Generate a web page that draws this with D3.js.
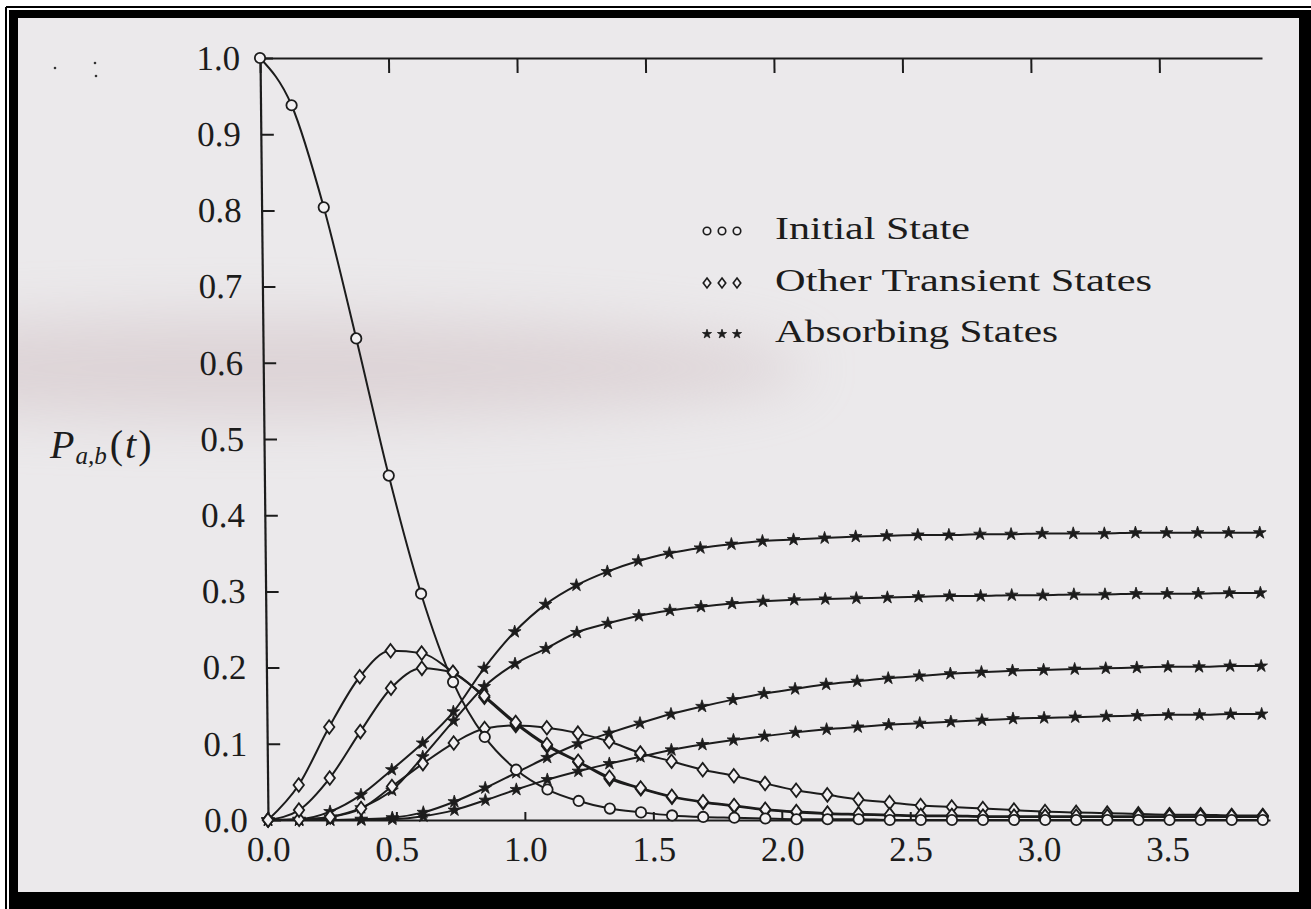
<!DOCTYPE html>
<html>
<head>
<meta charset="utf-8">
<script src="https://cdn.jsdelivr.net/npm/d3@7"></script>
<style>
  html, body { margin: 0; padding: 0; background: #ffffff; }
  svg { display: block; }
</style>
</head>
<body>
<svg id="chart" width="1311" height="909"></svg>
<script>
// ---------------- data ----------------
const tValues = [0, 0.121, 0.242, 0.363, 0.484, 0.605, 0.726, 0.847, 0.968, 1.089, 1.21,
  1.331, 1.452, 1.573, 1.694, 1.815, 1.936, 2.057, 2.178, 2.299, 2.42, 2.541, 2.662,
  2.783, 2.904, 3.025, 3.146, 3.267, 3.388, 3.509, 3.63, 3.751, 3.872];

const initialState = [1.0, 0.938, 0.804, 0.632, 0.452, 0.297, 0.181, 0.109, 0.066, 0.040, 0.025,
  0.015, 0.010, 0.006, 0.004, 0.003, 0.002, 0.001, 0.001, 0.001, 0, 0, 0,
  0, 0, 0, 0, 0, 0, 0, 0, 0, 0];

const transientA = [0, 0.046, 0.122, 0.188, 0.222, 0.219, 0.194, 0.163, 0.128, 0.099, 0.077,
  0.056, 0.042, 0.031, 0.024, 0.019, 0.014, 0.011, 0.009, 0.008, 0.007, 0.006, 0.006,
  0.005, 0.005, 0.005, 0.005, 0.005, 0.005, 0.005, 0.005, 0.005, 0.005];

const transientB = [0, 0.013, 0.055, 0.116, 0.173, 0.199, 0.193, 0.161, 0.126, 0.097, 0.076,
  0.054, 0.041, 0.030, 0.023, 0.018, 0.013, 0.010, 0.008, 0.007, 0.006, 0.005, 0.005,
  0.004, 0.004, 0.004, 0.004, 0.004, 0.004, 0.004, 0.004, 0.004, 0.004];

const transientC = [0, 0.001, 0.004, 0.015, 0.044, 0.074, 0.101, 0.120, 0.124, 0.121, 0.114,
  0.103, 0.088, 0.077, 0.066, 0.058, 0.048, 0.039, 0.033, 0.027, 0.023, 0.019, 0.017,
  0.015, 0.013, 0.011, 0.010, 0.009, 0.008, 0.007, 0.007, 0.006, 0.006];

const absorbingA = [0, 0.001, 0.011, 0.033, 0.066, 0.101, 0.142, 0.199, 0.247, 0.283, 0.308,
  0.326, 0.340, 0.350, 0.357, 0.362, 0.366, 0.368, 0.370, 0.372, 0.373, 0.374, 0.374,
  0.375, 0.375, 0.376, 0.376, 0.376, 0.377, 0.377, 0.377, 0.377, 0.377];

const absorbingB = [0, 0, 0.004, 0.016, 0.039, 0.083, 0.130, 0.175, 0.205, 0.225, 0.246,
  0.258, 0.268, 0.275, 0.280, 0.284, 0.287, 0.289, 0.290, 0.291, 0.292, 0.293, 0.294,
  0.294, 0.295, 0.295, 0.296, 0.296, 0.297, 0.297, 0.297, 0.298, 0.298];

const absorbingC = [0, 0, 0, 0.001, 0.003, 0.010, 0.024, 0.042, 0.062, 0.082, 0.100,
  0.114, 0.127, 0.139, 0.149, 0.158, 0.166, 0.172, 0.178, 0.182, 0.186, 0.189, 0.192,
  0.194, 0.196, 0.197, 0.198, 0.199, 0.200, 0.201, 0.201, 0.202, 0.202];

const absorbingD = [0, 0, 0, 0, 0.001, 0.005, 0.013, 0.026, 0.040, 0.053, 0.064,
  0.074, 0.083, 0.092, 0.099, 0.105, 0.110, 0.115, 0.119, 0.122, 0.125, 0.127, 0.129,
  0.131, 0.133, 0.134, 0.135, 0.136, 0.137, 0.138, 0.138, 0.139, 0.139];

const xTickValues = [0, 0.5, 1.0, 1.5, 2.0, 2.5, 3.0, 3.5];
const yTickValues = [0, 0.1, 0.2, 0.3, 0.4, 0.5, 0.6, 0.7, 0.8, 0.9, 1.0];
const legendLabels = ["Initial State", "Other Transient States", "Absorbing States"];
const legendMarkers = ["circle", "diamond", "star"];

// series: [values, marker]
const seriesList = [
  [absorbingD, "star"], [absorbingC, "star"], [absorbingB, "star"], [absorbingA, "star"],
  [transientC, "diamond"], [transientB, "diamond"], [transientA, "diamond"],
  [initialState, "circle"]
];

// ---------------- drawing ----------------
const svg = d3.select("#chart");
const W = 1311, H = 909;
const BG = "#ebe9eb";
const INK = "#1c1c1c";
const FONT = "'Liberation Serif', 'DejaVu Serif', serif";

// scanned-page frame
svg.append("rect").attr("x", 0).attr("y", 0).attr("width", W).attr("height", H).attr("fill", "#ffffff");
svg.append("rect").attr("x", 9).attr("y", 10).attr("width", W - 9).attr("height", H - 10).attr("fill", "#000");
svg.append("rect").attr("x", 18).attr("y", 18).attr("width", 1281).attr("height", 874).attr("fill", BG);
svg.append("line").attr("x1", 6).attr("y1", 7).attr("x2", 6).attr("y2", H).attr("stroke", "#000").attr("stroke-width", 2);
svg.append("line").attr("x1", 6).attr("y1", 7).attr("x2", W).attr("y2", 7).attr("stroke", "#000").attr("stroke-width", 2);

// faint, blurred shading of the scan
const defs = svg.append("defs");
defs.append("filter").attr("id", "soft").attr("x", "-20%").attr("y", "-80%")
  .attr("width", "140%").attr("height", "260%")
  .append("feGaussianBlur").attr("stdDeviation", 28);
defs.append("clipPath").attr("id", "inner").append("rect")
  .attr("x", 18).attr("y", 18).attr("width", 1281).attr("height", 874);
svg.append("g").attr("clip-path", "url(#inner)")
  .append("ellipse").attr("cx", 250).attr("cy", 368).attr("rx", 560).attr("ry", 52)
  .attr("fill", "#c8b3b7").attr("opacity", 0.38).attr("filter", "url(#soft)");

// plot area (the scan is very slightly skewed)
const plotW = 1002, plotH = 762;
const xScale = d3.scaleLinear().domain([0, 3.9]).range([0, plotW]);
const yScale = d3.scaleLinear().domain([0, 1]).range([0, -plotH]);

const plot = svg.append("g").attr("transform", "translate(268,820) skewX(0.6)");

// axes
const axisFont = (sel) => sel.selectAll("text")
  .attr("font-family", FONT).attr("font-size", 35).attr("fill", INK);

const axisB = plot.append("g")
  .call(d3.axisBottom(xScale).tickValues(xTickValues).tickFormat(d3.format(".1f"))
    .tickSize(-8).tickSizeOuter(0).tickPadding(16));
axisFont(axisB);

const axisT = plot.append("g").attr("transform", `translate(0,${-plotH})`)
  .call(d3.axisTop(xScale).tickValues(xTickValues).tickFormat("")
    .tickSize(-15).tickSizeOuter(0));

const axisL = plot.append("g")
  .call(d3.axisLeft(yScale).tickValues(yTickValues).tickFormat(d3.format(".1f"))
    .tickSize(-13).tickSizeOuter(0).tickPadding(20));
axisFont(axisL);

plot.selectAll(".domain").attr("stroke", INK).attr("stroke-width", 2.2);
plot.selectAll(".tick line").attr("stroke", INK).attr("stroke-width", 2);

// curves
const lineGen = d3.line()
  .x((d, i) => xScale(tValues[i]))
  .y(d => yScale(d))
  .curve(d3.curveMonotoneX);

seriesList.forEach(([vals]) => {
  plot.append("path").datum(vals).attr("d", lineGen)
    .attr("fill", "none").attr("stroke", INK).attr("stroke-width", 2);
});

// markers
const diamondPath = (w, h) => `M0,${-h}L${w},0L0,${h}L${-w},0Z`;
function drawMarker(sel, type, scale) {
  if (type === "circle") {
    sel.append("circle").attr("r", 5.2 * scale).attr("fill", "#f2f0f2")
      .attr("stroke", INK).attr("stroke-width", 1.8 * Math.min(1, scale + 0.2));
  } else if (type === "diamond") {
    sel.append("path").attr("d", diamondPath(5.2 * scale, 6.8 * scale)).attr("fill", "#f2f0f2")
      .attr("stroke", INK).attr("stroke-width", 1.8 * Math.min(1, scale + 0.2));
  } else {
    sel.append("path").attr("d", d3.symbol(d3.symbolStar, 50 * scale * scale)())
      .attr("fill", INK).attr("stroke", INK).attr("stroke-width", 0.8);
  }
}

seriesList.forEach(([vals, type]) => {
  const pts = plot.append("g").selectAll("g").data(vals).join("g")
    .attr("transform", (d, i) => `translate(${xScale(tValues[i])},${yScale(d)})`);
  pts.each(function () { drawMarker(d3.select(this), type, 1); });
});

// legend
const legend = svg.append("g");
const legendX = 707, legendStep = 15, textX = 775;
const baselines = [239, 291, 342];
const textLengths = [195, 377, 283];
legendLabels.forEach((lab, k) => {
  for (let j = 0; j < 3; j++) {
    const m = legend.append("g")
      .attr("transform", `translate(${legendX + j * legendStep},${baselines[k] - 8})`);
    drawMarker(m, legendMarkers[k], 0.72);
  }
  legend.append("text")
    .attr("x", textX).attr("y", baselines[k])
    .attr("font-family", FONT).attr("font-size", 31).attr("fill", INK)
    .attr("textLength", textLengths[k]).attr("lengthAdjust", "spacingAndGlyphs")
    .text(lab);
});

// y-axis title P_{a,b}(t)
const title = svg.append("text").attr("x", 50).attr("y", 458)
  .attr("font-family", FONT).attr("font-size", 40).attr("fill", INK);
title.append("tspan").attr("font-style", "italic").text("P");
title.append("tspan").attr("font-style", "italic").attr("font-size", 25).attr("dy", 6).attr("dx", 1).text("a,b");
title.append("tspan").attr("dy", -6).attr("dx", 3).text("(");
title.append("tspan").attr("font-style", "italic").attr("dx", 2).text("t");
title.append("tspan").attr("dx", 2).text(")");

// specks of the scan at top-left
[[55, 68], [95, 63], [96, 76]].forEach(([cx, cy]) => {
  svg.append("circle").attr("cx", cx).attr("cy", cy).attr("r", 1.3).attr("fill", "#333");
});
</script>
</body>
</html>
